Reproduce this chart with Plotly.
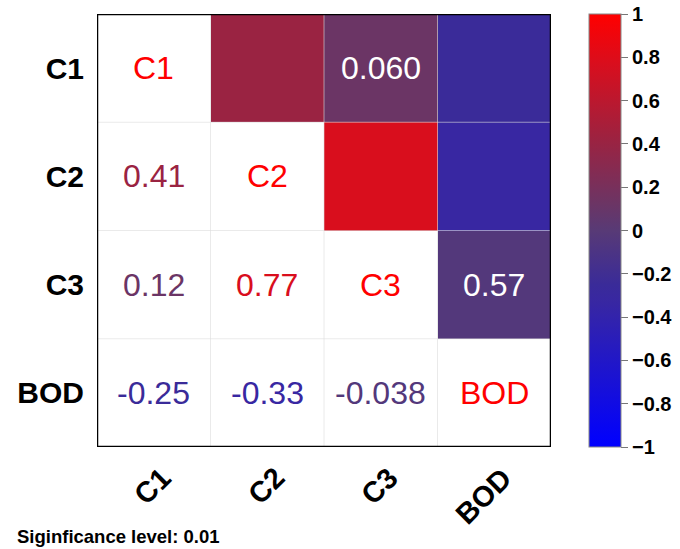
import numpy as np
import plotly.graph_objects as go
from plotly.colors import sample_colorscale

variables = ["C1", "C2", "C3", "BOD"]
corr = [
    [1.00, 0.41, 0.12, -0.25],
    [0.41, 1.00, 0.77, -0.33],
    [0.12, 0.77, 1.00, -0.038],
    [-0.25, -0.33, -0.038, 1.00],
]
corr_labels = [
    ["C1", "0.41", "0.12", "-0.25"],
    ["0.41", "C2", "0.77", "-0.33"],
    ["0.12", "0.77", "C3", "-0.038"],
    ["-0.25", "-0.33", "-0.038", "BOD"],
]
# p-values shown only where not significant at 0.01 (upper triangle)
pval_pairs = [(0, 2), (2, 3)]
pval_text = ["0.060", "0.57"]
cbar_vals = [1, 0.8, 0.6, 0.4, 0.2, 0, -0.2, -0.4, -0.6, -0.8, -1]
cbar_text = ["1", "0.8", "0.6", "0.4", "0.2", "0", "\u22120.2", "\u22120.4", "\u22120.6", "\u22120.8", "\u22121"]
footnote = "Siginficance level: 0.01"

colorscale = [
    [0.0, "rgb(0,0,255)"],
    [0.335, "rgb(56,39,162)"],
    [0.375, "rgb(58,43,153)"],
    [0.5, "rgb(88,58,118)"],
    [0.56, "rgb(107,53,101)"],
    [0.705, "rgb(154,35,66)"],
    [0.885, "rgb(217,14,29)"],
    [1.0, "rgb(255,0,0)"],
]

n = len(variables)
z = np.full((n, n), np.nan)
for i in range(n):
    for j in range(n):
        if j > i:
            z[i, j] = corr[i][j]

FONT = "Liberation Sans, Arial, Helvetica, sans-serif"
W, H = 680, 549
L, T, PW, PH = 97, 14, 454, 433

fig = go.Figure()
fig.add_trace(go.Heatmap(
    z=z, x=list(range(n)), y=list(range(n)),
    colorscale=colorscale, zmin=-1, zmax=1,
    hoverongaps=False, xgap=0, ygap=0,
    colorbar=dict(
        x=(589 - L) / PW, xanchor="left", xpad=0,
        y=0.5, yanchor="middle", ypad=0,
        lenmode="fraction", len=1.0, thickness=32,
        tickvals=cbar_vals, ticktext=cbar_text,
        ticks="outside", ticklen=7, tickcolor="#777777", tickwidth=1,
        outlinewidth=1, outlinecolor="#888888",
        ticklabeloverflow="allow",
        tickfont=dict(family=FONT, size=20, color="black", weight="bold"),
    ),
))

annotations = []
for i in range(n):
    for j in range(n):
        if i == j:
            annotations.append(dict(x=j, y=i, text=corr_labels[i][j], showarrow=False,
                                    font=dict(family=FONT, size=32, color="#FF0000")))
        elif j < i:
            c = sample_colorscale(colorscale, (corr[i][j] + 1) / 2)[0]
            annotations.append(dict(x=j, y=i, text=corr_labels[i][j], showarrow=False,
                                    font=dict(family=FONT, size=32, color=c)))
for (i, j), t in zip(pval_pairs, pval_text):
    annotations.append(dict(x=j, y=i, text=t, showarrow=False,
                            font=dict(family=FONT, size=32, color="white")))
# rotated x-axis category labels
for j, v in enumerate(variables):
    annotations.append(dict(x=j, xref="x", y=0, yref="paper", text=v, showarrow=False,
                            textangle=-45, xanchor="right", yanchor="top",
                            xshift=26, yshift=-12,
                            font=dict(family=FONT, size=29, color="black", weight="bold")))
annotations.append(dict(xref="paper", yref="paper", x=(15 - L) / PW, y=(447 - 536) / PH,
                        xanchor="left", yanchor="middle", text=footnote, showarrow=False,
                        font=dict(family=FONT, size=18.5, color="black", weight="bold")))

shapes = []
for k in range(1, n):
    b = k - 0.5
    shapes.append(dict(type="line", x0=b, x1=b, y0=-0.5, y1=n - 0.5,
                       line=dict(color="rgba(220,220,220,0.6)", width=1), layer="above"))
    shapes.append(dict(type="line", x0=-0.5, x1=n - 0.5, y0=b, y1=b,
                       line=dict(color="rgba(220,220,220,0.6)", width=1), layer="above"))
shapes.append(dict(type="rect", x0=-0.5, x1=n - 0.5, y0=-0.5, y1=n - 0.5,
                   line=dict(color="black", width=2.5), layer="above"))

fig.update_layout(
    width=W, height=H,
    margin=dict(l=L, r=W - L - PW, t=T, b=H - T - PH, autoexpand=False),
    paper_bgcolor="white", plot_bgcolor="white",
    annotations=annotations, shapes=shapes,
    xaxis=dict(range=[-0.5, n - 0.5], tickvals=list(range(n)), ticktext=[""] * n,
               showgrid=False, zeroline=False, ticks=""),
    yaxis=dict(range=[n - 0.5, -0.5], tickvals=list(range(n)), ticktext=variables,
               showgrid=False, zeroline=False, ticks="", ticklabelstandoff=12,
               tickfont=dict(family=FONT, size=30, color="black", weight="bold")),
)

fig.write_html("out.html", config={"displayModeBar": False},
               post_script="document.body.style.margin='0';")
